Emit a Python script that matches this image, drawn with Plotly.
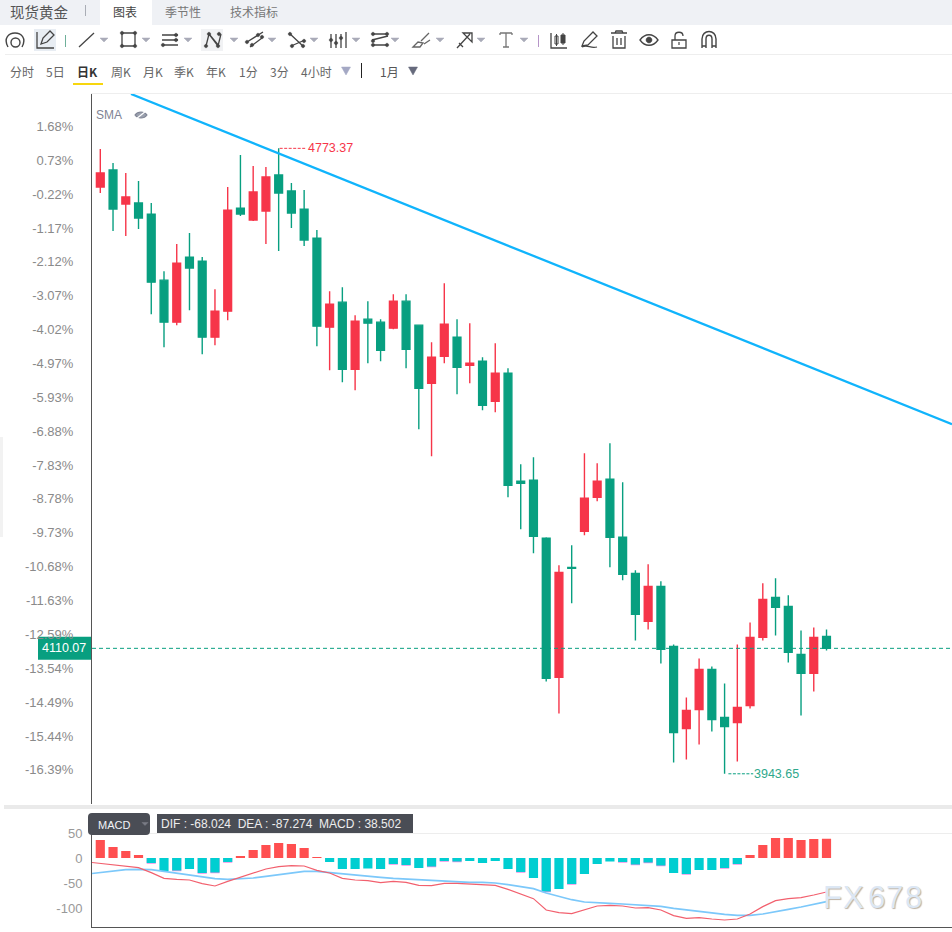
import plotly.graph_objects as go

# Daily spot gold candles
HIGH = [4772.45,4753.86,4740.58,4729.96,4700.76,4610.48,4646.33,4660.93,4629.07,4586.59,4722.00,4764.48,4749.88,4748.55,4773.37,4727.31,4718.02,4664.91,4583.93,
        4589.24,4552.07,4570.66,4546.76,4579.95,4579.95,4538.79,4516.23,4594.55,4546.76,4541.45,4496.31,4514.90,4481.71,4354.26,4363.56,4257.35,4220.18,4246.73,
        4368.87,4355.59,4382.14,4330.37,4213.54,4221.51,4198.94,4115.30,4044.94,4096.72,4086.10,4063.53,4115.30,4144.51,4196.29,4202.92,4180.36,4133.89,4137.87,4135.22]
OPEN = [4722.00,4744.57,4699.43,4700.76,4686.15,4598.54,4542.78,4629.07,4623.76,4522.87,4557.38,4694.12,4678.19,4690.14,4737.93,4716.69,4692.79,4654.29,4536.14,
        4569.33,4480.38,4546.76,4542.78,4534.81,4570.66,4538.79,4461.80,4497.64,4522.86,4485.69,4491.00,4437.90,4475.07,4331.69,4333.02,4256.02,4071.49,4217.52,
        4265.32,4310.45,4334.35,4257.35,4209.56,4145.84,4192.30,4112.65,4003.79,4029.01,4082.11,4018.39,4011.76,4034.32,4124.60,4177.70,4165.75,4102.03,4076.81,4125.93]
CLOSE = [4740.58,4692.79,4708.72,4680.84,4595.88,4542.78,4621.10,4614.47,4522.87,4557.38,4691.47,4686.15,4715.36,4735.27,4714.03,4687.48,4651.64,4537.47,4566.67,
         4480.38,4544.10,4541.45,4505.61,4570.66,4506.93,4455.16,4496.31,4540.12,4483.04,4488.35,4432.59,4475.07,4326.38,4329.04,4258.68,4070.17,4210.89,4216.20,
         4309.13,4331.69,4257.35,4208.23,4155.13,4192.30,4108.66,3998.48,4027.69,4082.11,4015.74,4006.45,4031.67,4124.60,4175.05,4164.42,4104.68,4076.81,4124.60,4110.07]
LOW = [4714.03,4663.59,4656.95,4666.24,4553.40,4509.59,4538.80,4558.71,4500.30,4512.24,4545.43,4683.50,4676.86,4646.33,4637.04,4667.57,4643.67,4510.92,4479.06,
       4463.12,4452.50,4488.35,4491.00,4533.48,4481.71,4400.73,4364.88,4488.35,4447.19,4461.80,4425.95,4423.30,4310.45,4267.97,4236.11,4066.18,4023.70,4169.73,
       4260.01,4305.14,4217.52,4200.27,4120.61,4135.22,4090.08,3958.65,3962.64,3982.55,3999.81,3943.65,3959.98,4030.34,4120.62,4127.25,4091.41,4021.05,4052.91,4107.34]

# MACD panel series; the line series begin one session before the first visible bar
MACD = [36,22,14,6,-10,-26,-25,-22,-30,-29,-8,4,16,26,30,28,20,2,-8,-22,-22,-21,-22,-12,-14,-20,-17,-6,-7,-6,-10,-6,-22,-28,-40,-67,-62,-52,-32,-12,-7,-8,-13,-9,-15,-30,-32,-24,-24,-20,-12,6,26,40,40,36,38,38.502]
DIF = [-8,-10.7,-12.7,-15.3,-19.3,-29.3,-40.7,-42.7,-44,-51.3,-56,-46.7,-38.7,-29.3,-22,-17.3,-15.3,-16,-24.7,-30,-40.7,-44,-45.3,-49.3,-46.7,-48.7,-54.7,-55.3,-50.7,-50.7,-52,
       -54.7,-54.7,-62.7,-71.3,-81.3,-104,-109.3,-111.3,-104,-96,-94.7,-96,-100,-99.3,-104,-115.3,-120.7,-119.3,-122,-124,-122,-112,-97.3,-85.3,-81.3,-79.3,-74,-68.024]
DEA = [-32,-28.7,-25.3,-23.3,-22.7,-23.3,-26.7,-30,-33.3,-37.3,-41.3,-42.7,-42,-40,-36.7,-33.3,-29.3,-26.7,-26.7,-29.3,-32,-34.7,-36.7,-38.7,-40.7,-42,-44,-46,-46.7,-47.3,-48.7,
       -48.7,-50,-53.3,-56.7,-61.3,-70,-77.3,-83.3,-88,-90,-90.7,-92,-93.3,-94.7,-96.7,-100.7,-104,-107.3,-110,-112.7,-114.7,-114.7,-112,-108,-102.7,-98,-92.7,-87.274]
EDGE_BARS = [4,6,8,9,10,23,24,26,27,28,33,35,37,41,42,43,44,46,49,50]

PCT_TICKS = [1.68,0.73,-0.22,-1.17,-2.12,-3.07,-4.02,-4.97,-5.93,-6.88,-7.83,-8.78,-9.73,-10.68,-11.63,-12.59,-13.54,-14.49,-15.44,-16.39]
PCT_BASE = 4723.0
LAST_PRICE = 4110.07
HIGH_MARK = (14, 4773.37)
LOW_MARK = (49, 3943.65)
TREND_X = [2.41, 66.85]
TREND_Y = [4845.46, 4407.37]
MACD_TICKS = [50, 0, -50, -100]
MACD_INFO = "DIF : -68.024  DEA : -87.274  MACD : 38.502"

W, H = 952, 932
GREEN, RED = "#089F80", "#F63549"
ZH = "Noto Sans CJK SC"
NUM = "Liberation Sans"
X_RANGE = [-0.651, 66.85]
idx = list(range(len(CLOSE)))
line_idx = [-1] + idx

fig = go.Figure()

fig.add_trace(go.Candlestick(
    x=idx, open=OPEN, high=HIGH, low=LOW, close=CLOSE, whiskerwidth=0, hoverinfo="skip",
    increasing=dict(line=dict(color=RED, width=1.4), fillcolor=RED),
    decreasing=dict(line=dict(color=GREEN, width=1.4), fillcolor=GREEN),
    xaxis="x", yaxis="y", showlegend=False))
fig.add_trace(go.Scatter(x=TREND_X, y=TREND_Y, mode="lines", line=dict(color="#10B4FC", width=2.3),
                         hoverinfo="skip", xaxis="x", yaxis="y", showlegend=False))

# MACD histogram, with the thin magenta end caps underneath
edge = [MACD[i] - 1.6 if i in EDGE_BARS else 0 for i in idx]
fig.add_trace(go.Bar(x=idx, y=edge, width=0.72, marker=dict(color="#F08CE6", line_width=0), hoverinfo="skip",
                     xaxis="x2", yaxis="y2", showlegend=False))
fig.add_trace(go.Bar(x=idx, y=MACD, width=0.72, marker=dict(color=["#FF4F50" if v >= 0 else "#00CED1" for v in MACD], line_width=0),
                     hoverinfo="skip", xaxis="x2", yaxis="y2", showlegend=False))
fig.add_trace(go.Scatter(x=line_idx, y=DEA, mode="lines", line=dict(color="#7CC8FA", width=1.6), hoverinfo="skip",
                         xaxis="x2", yaxis="y2", showlegend=False))
fig.add_trace(go.Scatter(x=line_idx, y=DIF, mode="lines", line=dict(color="#F2606E", width=1.2), hoverinfo="skip",
                         xaxis="x2", yaxis="y2", showlegend=False))
# Empty trace that keeps the pixel-space overlay axes alive for the toolbar drawing
fig.add_trace(go.Scatter(x=[], y=[], xaxis="x3", yaxis="y3", showlegend=False, hoverinfo="skip"))

shapes, notes = [], []


def rect(x0, y0, x1, y1, fill, layer="above"):
    shapes.append(dict(type="rect", xref="x3", yref="y3", x0=x0, y0=y0, x1=x1, y1=y1,
                       fillcolor=fill, line_width=0, layer=layer))


def path(d, color="#444444", width=1.3, fill=None):
    shapes.append(dict(type="path", xref="x3", yref="y3", path=d, layer="above",
                       line=dict(color=color, width=width), fillcolor=fill or "rgba(0,0,0,0)"))


def caret(x, y=40, color="#A9ABB8", w=4, h=4):
    path(f"M{x-w},{y-h/2} L{x+w},{y-h/2} L{x},{y+h/2} Z", color=color, width=0.5, fill=color)


def ring(x, y, rx, ry=None):
    # Bezier approximation of an ellipse; shape paths cannot carry arc commands
    ry = rx if ry is None else ry
    kx, ky = rx * 0.5523, ry * 0.5523
    return (f"M{x-rx},{y} C{x-rx},{y-ky} {x-kx},{y-ry} {x},{y-ry} C{x+kx},{y-ry} {x+rx},{y-ky} {x+rx},{y} "
            f"C{x+rx},{y+ky} {x+kx},{y+ry} {x},{y+ry} C{x-kx},{y+ry} {x-rx},{y+ky} {x-rx},{y} Z")


def dot(x, y, r=1.7, color="#444444"):
    path(ring(x, y, r), color=color, width=0.5, fill=color)


def text(x, y, s, size=12, color="#666666", anchor="left", family=ZH, **kw):
    notes.append(dict(xref="x3", yref="y3", x=x, y=y, text=s, showarrow=False, xanchor=anchor, yanchor="middle",
                      font=dict(family=family, size=size, color=color, **kw), borderpad=0, borderwidth=0))


# Header strip and tabs
rect(0, 0, W, 25, "#EFF1F5")
rect(100, 0, 152, 25, "#FFFFFF")
text(10, 11, "现货黄金", size=14.5, color="#555555")
rect(85, 5, 86, 16, "#A9ADB5")
text(113, 11, "图表", color="#444444")
text(165, 11, "季节性", color="#777777")
text(230, 11, "技术指标", color="#777777")

# Drawing toolbar
rect(5, 54, W, 55, "#EEEEEE")
rect(34, 29, 56, 51, "#E8EDF3")
rect(201, 29, 223, 51, "#F1F2F4")
path("M8,47 C3,38 9,33 15,33 C21,33 27,38 22,47", width=1.4)
path(ring(15.5, 42.5, 4.5), width=1.4)
path("M37,32 L37,48 L54,48 M41,44 L43,38 L50,31 L54,35 L47,42 Z", width=1.3)
rect(65, 35, 66, 47, "#6FB09A")
path("M79,47 L94,33")
caret(104)
path("M122,33 L135,33 L135,46 L122,46 Z")
for px, py in [(122, 33), (135, 33), (122, 46), (135, 46)]:
    dot(px, py)
caret(146)
path("M162,35 L178,35 M162,40 L178,40 M162,45 L178,45")
dot(176, 35); dot(176, 40); dot(163, 45)
caret(188)
path("M206,46 L209,34 L218,46 L221,34 M209,34 L219,46")
for px, py in [(206, 46), (209, 34), (218, 46), (219, 34)]:
    dot(px, py)
caret(234)
path("M247,42 L263,32 M250,47 L262,38")
dot(247, 42); dot(258, 35); dot(252, 45); dot(262, 37)
caret(272)
path("M289,33 L304,47 M291,46 L305,40")
dot(290, 34); dot(303, 46); dot(292, 46); dot(304, 41)
caret(314)
path("M331,34 L331,48 M336,34 L336,48 M341,34 L341,48 M346,32 L346,48")
dot(331, 40); dot(336, 43); dot(341, 38)
caret(356)
path("M372,34 L388,34 M372,40 L388,36 M372,45 L388,45")
dot(373, 34); dot(387, 34); dot(373, 41); dot(373, 45); dot(387, 45)
caret(395)
path("M413,47 L418,42 L423,43 L420,47 Z M421,41 L429,33 M424,44 L430,40", color="#666666")
caret(440)
path("M457,48 L470,34 M463,33 L472,33 L472,42 Z M459,43 L463,47", color="#444444")
caret(481)
path("M500,33 L512,33 M506,33 L506,47 M503,47 L509,47 M500,33 L500,35 M512,33 L512,35", color="#777777")
caret(524)
rect(538, 35, 539, 47, "#B695C8")
path("M551,33 L551,48 L567,48")
path("M555,36 L558,36 L558,44 L555,44 Z M556.5,34 L556.5,46", width=1)
path("M561,35 L565,35 L565,43 L561,43 Z M563,33 L563,45", width=1, fill="#444444")
path("M582,46 L584,41 L593,32 L597,36 L588,45 Z M582,47 C588,44 590,49 597,47")
path("M611,33 L627,33 M615,33 L616,31 L622,31 L623,33 M613,36 L613,48 L625,48 L625,36 M617,38 L617,45 M621,38 L621,45")
path("M640,40 C645,33 653,33 658,40 C653,47 645,47 640,40 Z")
dot(649, 40, r=3)
path("M672,40 L686,40 L686,48 L672,48 Z M675,40 L675,36 C675,31 683,31 683,36", width=1.3)
rect(678.4, 42, 679.6, 45, "#444444")
path("M702,48 L702,39 C702,29 716,29 716,39 L716,48 M702,46 L706,46 M712,46 L716,46 M706,48 L706,39 C706,34 712,34 712,39 L712,48", width=1.4)

# Period selector row
periods = [(10, "分时"), (46, "5日"), (111, "周K"), (143, "月K"), (174, "季K"), (206, "年K"), (239, "1分"), (270, "3分"), (301, "4小时")]
for px, s in periods:
    text(px, 71, s)
text(77, 71, "<b>日K</b>", color="#333333")
rect(73, 83, 103, 85, "#F7D60E")
caret(346, y=71, color="#A4A8C4", w=4.5, h=8)
rect(361, 63, 362, 78, "#222222")
text(380, 71, "1月", color="#555555")
caret(413, y=71, color="#666A7C", w=4.5, h=8)
rect(91, 93, W, 94, "#EEEEEE")

# Study label with its hidden-eye glyph
text(96, 115, "SMA", color="#7F8494", family=NUM)
path("M135,115 C138,111 144,111 147,115 C144,119 138,119 135,115 Z", color="#7F8494", width=1.2, fill="#9AA0AE")
path("M136,119 L146,111", color="#FFFFFF", width=1.2)

# Left collapse handle and panel separator
rect(0, 437, 3, 537, "#F2F2F2")
rect(4, 805, W, 809, "#EAEAEA")

# MACD panel badges
rect(91, 833, W, 834, "#EDEDED", layer="below")
shapes.append(dict(type="path", xref="x3", yref="y3", layer="above", line_width=0, fillcolor="#4A4D55",
                   path="M92,813 L146,813 Q150,813 150,817 L150,831 Q150,835 146,835 L92,835 Q88,835 88,831 L88,817 Q88,813 92,813 Z"))
text(98, 825, "MACD", size=11, color="#F2F4F8", family=NUM)
caret(145, y=824, color="#7A7D86", w=3, h=3)
rect(157, 814, 413, 833, "#4A4D55")
text(161, 824, MACD_INFO, size=12, color="#EEEEEE", family=NUM)

# Dashed last-price line with its badge, plus the extreme markers
shapes.append(dict(type="line", xref="x domain", yref="y", x0=0, x1=1, y0=LAST_PRICE, y1=LAST_PRICE, layer="above",
                   line=dict(color=GREEN, width=1, dash="4px,3px")))
notes.append(dict(xref="x3", yref="y", x=64, y=LAST_PRICE, text=f"{LAST_PRICE:.2f}", showarrow=False, xanchor="center", yanchor="middle",
                  font=dict(family=NUM, size=12.5, color="#FFFFFF")))
shapes.append(dict(type="rect", xref="x3", yref="y", x0=38, x1=92, y0=LAST_PRICE - 15, y1=LAST_PRICE + 15.5,
                   fillcolor=GREEN, line_width=0, layer="below"))
shapes.append(dict(type="line", xref="x", yref="y", x0=HIGH_MARK[0] + 0.08, x1=HIGH_MARK[0] + 2.2, y0=HIGH_MARK[1], y1=HIGH_MARK[1],
                   line=dict(color=RED, width=1, dash="3px,1.5px")))
notes.append(dict(xref="x", yref="y", x=HIGH_MARK[0] + 2.2, y=HIGH_MARK[1], text=f"{HIGH_MARK[1]:.2f}", showarrow=False, xanchor="left", yanchor="middle",
                  font=dict(family=NUM, size=12.5, color=RED), borderpad=0))
shapes.append(dict(type="line", xref="x", yref="y", x0=LOW_MARK[0] + 0.3, x1=LOW_MARK[0] + 2.25, y0=LOW_MARK[1], y1=LOW_MARK[1],
                   line=dict(color=GREEN, width=1, dash="3px,1.5px")))
notes.append(dict(xref="x", yref="y", x=LOW_MARK[0] + 2.25, y=LOW_MARK[1], text=f"{LOW_MARK[1]:.2f}", showarrow=False, xanchor="left", yanchor="middle",
                  font=dict(family=NUM, size=12.5, color="#2FA88C"), borderpad=0))

# Watermark glyphs, spaced individually
for px, ch in zip([832.5, 853, 876, 894.5, 913.5], "FX678"):
    text(px, 897, ch, size=31, color="#DCE7F4", anchor="center", family=NUM, shadow="1px 1px 1px #BDB2A5")

tick_price = [PCT_BASE * (1 + p / 100) for p in PCT_TICKS]
tick_text = [f"{p:.2f}%" for p in PCT_TICKS]

fig.update_layout(
    width=W, height=H, margin=dict(l=0, r=0, t=0, b=0, pad=0), autosize=False,
    paper_bgcolor="#FFFFFF", plot_bgcolor="rgba(0,0,0,0)", barmode="overlay",
    boxgap=0.39, boxgroupgap=0, showlegend=False, shapes=shapes, annotations=notes, hovermode=False,
    xaxis=dict(domain=[92 / W, 1], range=X_RANGE, anchor="y", visible=False, automargin=False, rangeslider=dict(visible=False), fixedrange=True),
    yaxis=dict(domain=[1 - 803.5 / H, 1 - 94 / H], range=[3904.23, 4845.46], anchor="x", tickmode="array", tickvals=tick_price, ticktext=tick_text,
               automargin=False, showgrid=False, zeroline=False, showline=True, linecolor="#555555", linewidth=1, ticks="outside", ticklen=15,
               tickcolor="rgba(0,0,0,0)", tickfont=dict(family=NUM, size=13, color="#8A8A8A"), fixedrange=True),
    xaxis2=dict(domain=[92 / W, 1], range=X_RANGE, anchor="y2", automargin=False, showticklabels=False, ticks="", showgrid=False, zeroline=False,
                showline=True, linecolor="#555555", linewidth=1, fixedrange=True),
    yaxis2=dict(domain=[1 - 926.5 / H, 1 - 833 / H], range=[-137, 50], anchor="x2", automargin=False, tickmode="array", tickvals=MACD_TICKS,
                ticktext=[str(v) for v in MACD_TICKS], showgrid=False, zeroline=False, showline=True, linecolor="#555555", linewidth=1,
                ticks="outside", ticklen=6, tickcolor="rgba(0,0,0,0)", tickfont=dict(family=NUM, size=13, color="#999999"), fixedrange=True),
    xaxis3=dict(domain=[0, 1], range=[0, W], anchor="y3", visible=False, automargin=False, fixedrange=True),
    yaxis3=dict(domain=[0, 1], range=[H, 0], anchor="x3", visible=False, automargin=False, fixedrange=True),
)

fig.write_html("out.html", config=dict(displayModeBar=False, staticPlot=True))
